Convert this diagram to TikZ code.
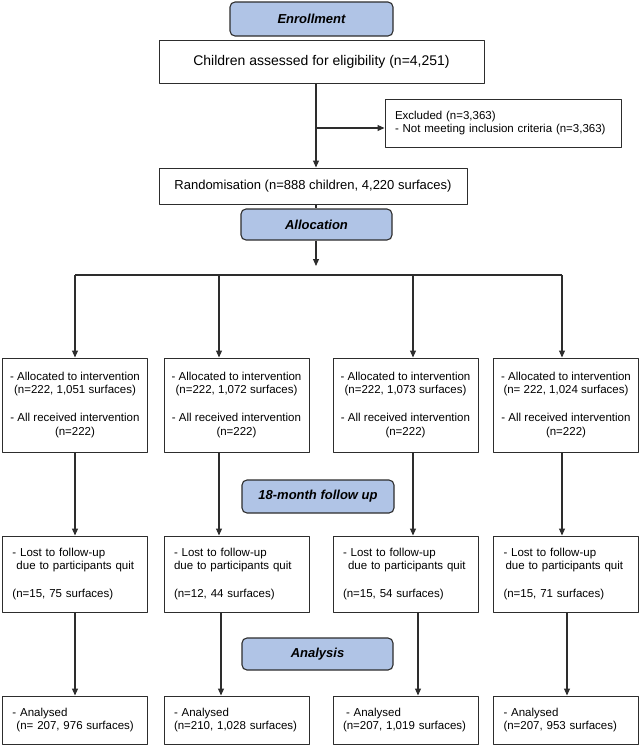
\documentclass[tikz,border=0pt]{standalone}
\usepackage{fontspec}
\usetikzlibrary{arrows.meta}
\setmainfont{Liberation Sans}
\definecolor{headblue}{RGB}{176,196,230}
\definecolor{linegrey}{RGB}{45,45,45}
\tikzset{
  head/.style={draw=linegrey,fill=headblue,rounded corners=5pt,line width=1.1pt,
    font=\fontsize{13}{15}\selectfont\bfseries\itshape,inner sep=0pt},
  box/.style={draw=linegrey,line width=1pt,inner sep=0pt,
    font=\fontsize{11.5}{13.5}\selectfont},
  lbox/.style={box,align=left,text width=125pt,inner xsep=10pt,minimum width=145pt},
  cbox/.style={box,align=center,minimum width=145pt},
  link/.style={draw=linegrey,line width=1.1pt},
  arr/.style={link,-{Triangle[length=7pt,width=6pt]}}
}
\begin{document}
\begin{tikzpicture}[x=1pt,y=-1pt,line join=round]
\useasboundingbox (0,0) rectangle (641,748);
% top part
\node[head,minimum width=163pt,minimum height=34pt] (enroll) at (311.5,19) {Enrollment};
\node[box,minimum width=325pt,minimum height=43pt,font=\fontsize{14}{16}\selectfont] (assess) at (321.5,61.5) {Children assessed for eligibility (n=4,251)};
\node[box,align=left,text width=216pt,inner xsep=10pt,minimum height=48pt] (excl) at (503,123) {Excluded (n=3,363)\\- Not meeting inclusion criteria (n=3,363)};
\node[box,minimum width=308pt,minimum height=36pt,font=\fontsize{13}{15}\selectfont] (rand) at (313,186) {Randomisation (n=888 children, 4,220 surfaces)};
\node[head,minimum width=151pt,minimum height=31pt] (alloc) at (316.5,224.5) {Allocation};
\coordinate (split) at (316,128);
\coordinate (stop) at (316,266);
\draw[arr] (split |- assess.south) -- (split |- rand.north);
\draw[arr] (split) -- (excl.west |- split);
\draw[link] (split |- rand.south) -- (split |- alloc.north);
\draw[arr] (split |- alloc.south) -- (stop);
% four arms
\node[cbox,minimum height=94pt] (a1) at (75,405) {- Allocated to intervention\\(n=222, 1,051 surfaces)\\[14.5pt]- All received intervention\\(n=222)};
\node[cbox,minimum height=94pt] (a2) at (236.5,405) {- Allocated to intervention\\(n=222, 1,072 surfaces)\\[14.5pt]- All received intervention\\(n=222)};
\node[cbox,minimum height=94pt] (a3) at (405.5,405) {- Allocated to intervention\\(n=222, 1,073 surfaces)\\[14.5pt]- All received intervention\\(n=222)};
\node[cbox,minimum height=94pt] (a4) at (566,405) {- Allocated to intervention\\(n= 222, 1,024 surfaces)\\[14.5pt]- All received intervention\\(n=222)};
\node[head,minimum width=152pt,minimum height=33pt] (fu) at (318,496.5) {18-month follow up};
\node[lbox,minimum height=76pt] (l1) at (75,574) {- Lost to follow-up\\\hspace{4pt}due to participants quit\\[14.5pt](n=15, 75 surfaces)};
\node[lbox,minimum height=76pt] (l2) at (236.5,574) {- Lost to follow-up\\due to participants quit\\[14.5pt](n=12, 44 surfaces)};
\node[lbox,minimum height=76pt] (l3) at (405.5,574) {- Lost to follow-up\\\hspace{5pt}due to participants quit\\[14.5pt](n=15, 54 surfaces)};
\node[lbox,minimum height=76pt] (l4) at (566,574) {- Lost to follow-up\\\hspace{2pt}due to participants quit\\[14.5pt](n=15, 71 surfaces)};
\node[head,minimum width=151pt,minimum height=32pt] (ana) at (317.5,654) {Analysis};
\node[lbox,minimum height=48pt] (n1) at (75,720) {- Analysed\\\hspace{4pt}(n= 207, 976 surfaces)};
\node[lbox,minimum height=48pt] (n2) at (236.5,720) {- Analysed\\(n=210, 1,028 surfaces)};
\node[lbox,minimum height=48pt] (n3) at (405.5,720) {\hspace{3pt}- Analysed\\(n=207, 1,019 surfaces)};
\node[lbox,minimum height=48pt] (n4) at (566,720) {- Analysed\\(n=207, 953 surfaces)};
% branches
\coordinate (b1) at (75,275);
\coordinate (b4) at (562,275);
\draw[link] (b1) -- (b4);
\foreach \x/\k in {75/1,219/2,413/3,562/4}{
  \draw[arr] (\x,275) -- (\x,0 |- a\k.north);
  \draw[arr] (\x,0 |- a\k.south) -- (\x,0 |- l\k.north);
}
\foreach \x/\k in {75/1,221/2,418/3,567/4}
  \draw[arr] (\x,0 |- l\k.south) -- (\x,0 |- n\k.north);
\end{tikzpicture}
\end{document}
